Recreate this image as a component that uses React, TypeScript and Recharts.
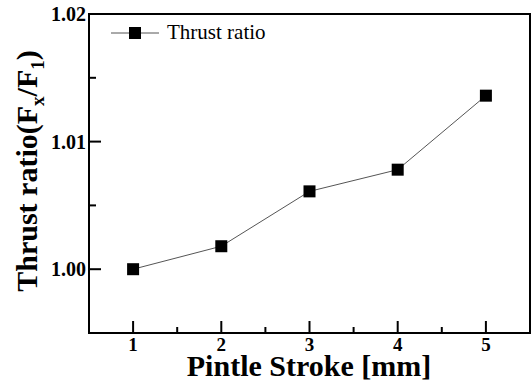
import { LineChart, Line, XAxis, YAxis, Legend, Label, ReferenceArea } from "recharts";

const strokes = [1, 2, 3, 4, 5];
const thrustRatio = [1.0, 1.0018, 1.0061, 1.0078, 1.0136];
const xTicks = [1, 1.5, 2, 2.5, 3, 3.5, 4, 4.5, 5];
const yTicks = [1.0, 1.005, 1.01, 1.015, 1.02];
const majorY = [1.0, 1.01, 1.02];

const data = strokes.map((s, i) => ({ stroke: s, ratio: thrustRatio[i] }));

const W = 532;
const H = 382;
const PLOT_LEFT = 89;
const PLOT_BOTTOM = 333;
const FONT = '"Liberation Serif", "Times New Roman", serif';

const XTick = (props: any) => {
  const { x, payload } = props;
  const major = Number.isInteger(payload.value);
  return (
    <g>
      <line x1={x} x2={x} y1={PLOT_BOTTOM} y2={PLOT_BOTTOM - (major ? 12 : 6)} stroke="#000" strokeWidth={2} />
      {major && (
        <text x={x} y={PLOT_BOTTOM + 18} textAnchor="middle" fontFamily={FONT} fontWeight="bold" fontSize={19} fill="#000">
          {payload.value}
        </text>
      )}
    </g>
  );
};

const YTick = (props: any) => {
  const { y, payload } = props;
  const major = majorY.some((v) => Math.abs(v - payload.value) < 1e-9);
  return (
    <g>
      <line x1={PLOT_LEFT} x2={PLOT_LEFT + (major ? 12 : 7)} y1={y} y2={y} stroke="#000" strokeWidth={2} />
      {major && (
        <text x={PLOT_LEFT - 3} y={y + 7} textAnchor="end" fontFamily={FONT} fontWeight="bold" fontSize={20} fill="#000">
          {payload.value.toFixed(2)}
        </text>
      )}
    </g>
  );
};

const Square = (props: any) => {
  const { cx, cy } = props;
  if (cx == null || cy == null) return null;
  return <rect x={cx - 6} y={cy - 6} width={12} height={12} fill="#000" />;
};

const LegendBox = () => (
  <div style={{ display: "flex", alignItems: "center", fontFamily: FONT, fontSize: 21, color: "#000", whiteSpace: "nowrap" }}>
    <svg width={50} height={14}>
      <line x1={0} x2={48} y1={7} y2={7} stroke="#555" strokeWidth={1} />
      <rect x={18} y={1} width={12} height={12} fill="#000" />
    </svg>
    <span style={{ marginLeft: 6 }}>Thrust ratio</span>
  </div>
);

// rotated y title with subscripts
const YLabel = () => (
  <text
    x={37}
    y={171}
    transform="rotate(-90, 37, 171)"
    textAnchor="middle"
    fontFamily={FONT}
    fontWeight="bold"
    fontSize={30}
    fill="#000"
  >
    Thrust ratio(F
    <tspan dy={7} fontSize={19}>x</tspan>
    <tspan dy={-7}>/F</tspan>
    <tspan dy={7} fontSize={19}>1</tspan>
    <tspan dy={-7}>)</tspan>
  </text>
);

export default function App() {
  return (
    <div style={{ position: "absolute", left: 0, top: 0, width: W, height: H, background: "#fff" }}>
      <LineChart width={W} height={H} data={data} margin={{ top: 14, right: 2, bottom: 0, left: 0 }}>
        <XAxis
          dataKey="stroke"
          type="number"
          domain={[0.5, 5.5]}
          ticks={xTicks}
          interval={0}
          height={49}
          axisLine={{ stroke: "#000", strokeWidth: 2 }}
          tickLine={false}
          tick={<XTick />}
        >
          <Label
            content={() => (
              <text x={309} y={376} textAnchor="middle" fontFamily={FONT} fontWeight="bold" fontSize={30} fill="#000">
                Pintle Stroke [mm]
              </text>
            )}
          />
        </XAxis>
        <YAxis
          type="number"
          domain={[0.995, 1.02]}
          ticks={yTicks}
          interval={0}
          width={89}
          axisLine={{ stroke: "#000", strokeWidth: 2 }}
          tickLine={false}
          tick={<YTick />}
        >
          <Label content={() => <YLabel />} />
        </YAxis>
        <ReferenceArea
          x1={0.5}
          x2={5.5}
          y1={0.995}
          y2={1.02}
          fill="none"
          fillOpacity={0}
          stroke="#000"
          strokeWidth={2}
          ifOverflow="visible"
        />
        <Legend
          layout="horizontal"
          verticalAlign="middle"
          align="center"
          content={() => <LegendBox />}
          wrapperStyle={{ position: "absolute", top: 20, left: 111, width: "auto", height: "auto" }}
        />
        <Line
          dataKey="ratio"
          stroke="#555"
          strokeWidth={1}
          dot={<Square />}
          activeDot={false}
          isAnimationActive={false}
        />
      </LineChart>
    </div>
  );
}
